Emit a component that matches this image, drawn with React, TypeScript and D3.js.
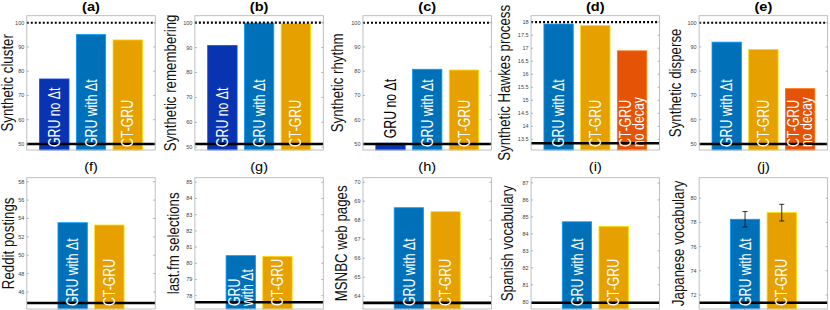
import * as d3 from "d3";

// categories
const synthCats = ["GRU no Δt", "GRU with Δt", "CT-GRU"];
const decayCats = ["GRU with Δt", "CT-GRU", "CT-GRU no decay"];
const realCats = ["GRU with Δt", "CT-GRU"];

const titles = ["(a)", "(b)", "(c)", "(d)", "(e)", "(f)", "(g)", "(h)", "(i)", "(j)"];
const yLabels = [
  "Synthetic cluster",
  "Synthetic remembering",
  "Synthetic rhythm",
  "Synthetic Hawkes process",
  "Synthetic disperse",
  "Reddit postings",
  "last.fm selections",
  "MSNBC web pages",
  "Spanish vocabulary",
  "Japanese vocabulary",
];

// values
const clusterValues = [76.8, 95.1, 92.9];
const rememberingValues = [90.8, 99.8, 99.7];
const rhythmValues = [50.3, 80.8, 80.5];
const hawkesValues = [17.93, 17.87, 16.9];
const disperseValues = [92.0, 89.0, 72.8];
const redditValues = [53.54, 53.29];
const lastfmValues = [80.47, 80.43];
const msnbcValues = [68.66, 68.45];
const spanishValues = [84.71, 84.44];
const japaneseValues = [78.26, 78.81];
const japaneseErrors = [0.64, 0.69];

// chance level (thick line) and ceiling (dotted line)
const chanceLevels = [50, 51.3, 50, 13.35, 50, 44.8, 77.6, 63.65, 79.94, 71.36];
const ceilingLevels = [100, 100, 100, 18, 100, null, null, null, null, null];

const yDomains = [
  [47.5, 102.9],
  [48.9, 102.8],
  [47.5, 102.9],
  [13.09, 18.25],
  [47.5, 102.9],
  [44.15, 58.44],
  [77.18, 85.28],
  [63.33, 70.24],
  [79.57, 87.31],
  [70.84, 81.7],
];

// tick labels
const pctTicks = [50, 60, 70, 80, 90, 100];
const hawkesTicks = [13.5, 14, 14.5, 15, 15.5, 16, 16.5, 17, 17.5, 18];
const redditTicks = [46, 48, 50, 52, 54, 56, 58];
const lastfmTicks = [78, 79, 80, 81, 82, 83, 84, 85];
const msnbcTicks = [64, 65, 66, 67, 68, 69, 70];
const spanishTicks = [80, 81, 82, 83, 84, 85, 86, 87];
const japaneseTicks = [72, 74, 76, 78, 80];

const colors: Record<string, string> = {
  "GRU no Δt": "#0834b2",
  "GRU with Δt": "#0071b9",
  "CT-GRU": "#e6a000",
  "CT-GRU no decay": "#e45306",
};

const panels = [
  { cats: synthCats, values: clusterValues, ticks: pctTicks },
  { cats: synthCats, values: rememberingValues, ticks: pctTicks },
  { cats: synthCats, values: rhythmValues, ticks: pctTicks },
  { cats: decayCats, values: hawkesValues, ticks: hawkesTicks },
  { cats: decayCats, values: disperseValues, ticks: pctTicks },
  { cats: realCats, values: redditValues, ticks: redditTicks },
  { cats: realCats, values: lastfmValues, ticks: lastfmTicks, narrow: true },
  { cats: realCats, values: msnbcValues, ticks: msnbcTicks },
  { cats: realCats, values: spanishValues, ticks: spanishTicks },
  { cats: realCats, values: japaneseValues, ticks: japaneseTicks, errors: japaneseErrors },
];

// layout
const STEP = 36.7;
const ROWS = [
  { top: 15.7, bottom: 150, titleY: 10.8, weight: "bold" },
  { top: 177.7, bottom: 309, titleY: 170.5, weight: "normal" },
];
const yLabelX = [13, 175.8, 343.2, 509.5, 680.5, 14, 178.5, 346.5, 512.5, 684];
const FONT = "'Liberation Sans', Arial, Helvetica, sans-serif";
const SX = 1.28; // the figure is stretched horizontally

function labelLines(cat: string, narrow?: boolean) {
  if (cat === "CT-GRU no decay") return ["CT-GRU", "no decay"];
  if (narrow && cat === "GRU with Δt") return ["GRU", "with Δt"];
  return [cat];
}

function Panel({ i }: { i: number }) {
  const p: any = panels[i];
  const row = ROWS[i < 5 ? 0 : 1];
  const col = i % 5;
  const cx = 91 + 168.1 * col;
  const left = cx - 1.75 * STEP;
  const right = cx + 1.75 * STEP;
  const n = p.cats.length;

  const x = d3
    .scaleBand()
    .domain(p.cats)
    .range([cx - (n * STEP) / 2, cx + (n * STEP) / 2])
    .paddingInner(0.2)
    .paddingOuter(0.1);
  const y = d3.scaleLinear().domain(yDomains[i]).range([row.bottom, row.top]);
  const bw = x.bandwidth();
  const fs = 12.3;
  const ceiling = ceilingLevels[i];

  return (
    <g>
      <rect x={left} y={row.top} width={right - left} height={row.bottom - row.top} fill="#fff" />
      {p.cats.map((c: string, k: number) => {
        const v = p.values[k];
        const fill = colors[c];
        return (
          <rect
            key={c}
            x={x(c)}
            y={y(v)}
            width={bw}
            height={row.bottom - y(v)}
            fill={fill}
            stroke={d3.color(fill)!.brighter(0.9).formatHex()}
            strokeWidth={0.8}
          />
        );
      })}
      <line x1={left} x2={right} y1={y(chanceLevels[i])} y2={y(chanceLevels[i])} stroke="#000" strokeWidth={2.6} />
      {ceiling != null && (
        <line x1={left} x2={right} y1={y(ceiling)} y2={y(ceiling)} stroke="#000" strokeWidth={2.2} strokeDasharray="2,2" />
      )}
      <rect x={left} y={row.top} width={right - left} height={row.bottom - row.top} fill="none" stroke="#b8b8b8" strokeWidth={0.9} />
      {p.ticks.map((t: number) => (
        <g key={t}>
          <line x1={left} x2={left + 2} y1={y(t)} y2={y(t)} stroke="#888" strokeWidth={0.6} />
          <line x1={right} x2={right - 2} y1={y(t)} y2={y(t)} stroke="#888" strokeWidth={0.6} />
          <text x={left - 2.5} y={y(t)} dy="0.35em" textAnchor="end" fontSize={5.5} fill="#444" fontFamily={FONT}>
            {t}
          </text>
        </g>
      ))}
      {p.errors &&
        p.cats.map((c: string, k: number) => {
          const v = p.values[k];
          const e = p.errors[k];
          const mx = (x(c) as number) + bw / 2;
          return (
            <g key={"e" + c} stroke="#000" strokeWidth={0.8}>
              <line x1={mx} x2={mx} y1={y(v - e)} y2={y(v + e)} />
              <line x1={mx - 2.5} x2={mx + 2.5} y1={y(v - e)} y2={y(v - e)} />
              <line x1={mx - 2.5} x2={mx + 2.5} y1={y(v + e)} y2={y(v + e)} />
            </g>
          );
        })}
      {p.cats.map((c: string, k: number) => {
        const v = p.values[k];
        const lines = labelLines(c, p.narrow);
        const short = row.bottom - y(v) < 20;
        const startY = short ? y(v) - 5 : row.bottom - 3;
        return lines.map((ln, j) => {
          const off = (j - (lines.length - 1) / 2) * fs * 0.8 * SX;
          const tx = (x(c) as number) + bw / 2 + off + 0.36 * fs * SX;
          return (
            <text
              key={c + j}
              transform={`translate(${tx},${startY}) scale(${SX},1) rotate(-90)`}
              fontSize={fs}
              fill={short ? "#000" : "#fff"}
              fontFamily={FONT}
            >
              {ln}
            </text>
          );
        });
      })}
      <text
        transform={`translate(${(left + right) / 2},${row.titleY}) scale(1.12,1)`}
        textAnchor="middle"
        fontSize={13}
        fontWeight={row.weight}
        fontFamily={FONT}
      >
        {titles[i]}
      </text>
      <text
        transform={`translate(${yLabelX[i]},${(row.top + row.bottom) / 2}) scale(1.22,1) rotate(-90)`}
        textAnchor="middle"
        fontSize={13.3}
        fontFamily={FONT}
        fill="#111"
      >
        {yLabels[i]}
      </text>
    </g>
  );
}

export default function App() {
  return (
    <svg
      width={830}
      height={310}
      style={{ position: "absolute", left: 0, top: 0, background: "#fff" }}
    >
      {panels.map((_, i) => (
        <Panel key={i} i={i} />
      ))}
    </svg>
  );
}
